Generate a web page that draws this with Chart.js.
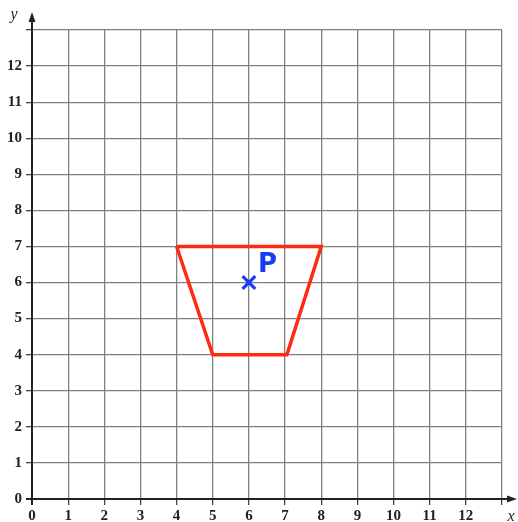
<!DOCTYPE html>
<html>
<head>
<meta charset="utf-8">
<script src="https://cdn.jsdelivr.net/npm/chart.js@4"></script>
<style>
  body { margin: 0; background: #fff; }
  #wrap { width: 518px; height: 522px; }
</style>
</head>
<body>
<div id="wrap"><canvas id="chart" width="518" height="522"></canvas></div>
<script>
// grid / tick data
const tickValues = [0, 1, 2, 3, 4, 5, 6, 7, 8, 9, 10, 11, 12];
const axisMax = 13;

// red shape (closed)
const shapeX = [4, 8, 7.05, 5, 4];
const shapeY = [7, 7, 4, 4, 7];

// point P
const pointX = [6];
const pointY = [6];
const pointLabels = ['P'];

const shapeData = shapeX.map((x, i) => ({ x: x, y: shapeY[i] }));
const pointData = pointX.map((x, i) => ({ x: x, y: pointY[i] }));

// axis lines with arrows + axis names + P label
const axesPlugin = {
  id: 'axesPlugin',
  afterDatasetsDraw(chart) {
    const ctx = chart.ctx;
    const xs = chart.scales.x, ys = chart.scales.y;
    const x0 = xs.getPixelForValue(0), y0 = ys.getPixelForValue(0);
    const top = 12, right = 517;
    ctx.save();
    ctx.strokeStyle = '#222';
    ctx.fillStyle = '#222';
    ctx.lineWidth = 2;
    ctx.beginPath();
    ctx.moveTo(x0, y0 + 6);
    ctx.lineTo(x0, top + 4);
    ctx.moveTo(x0 - 6, y0);
    ctx.lineTo(right - 4, y0);
    ctx.stroke();
    // arrow heads
    ctx.beginPath();
    ctx.moveTo(x0, top);
    ctx.lineTo(x0 - 3.5, top + 10);
    ctx.lineTo(x0 + 3.5, top + 10);
    ctx.closePath();
    ctx.fill();
    ctx.beginPath();
    ctx.moveTo(right, y0);
    ctx.lineTo(right - 10, y0 - 3.5);
    ctx.lineTo(right - 10, y0 + 3.5);
    ctx.closePath();
    ctx.fill();
    // axis names
    ctx.font = 'italic 16px "Liberation Serif"';
    ctx.textAlign = 'center';
    ctx.textBaseline = 'middle';
    ctx.fillText('y', 14, 15);
    ctx.fillText('x', 511, 517);
    // P label
    ctx.fillStyle = '#1a3cf0';
    ctx.font = 'bold 26px "Comic Sans MS", "DejaVu Sans", sans-serif';
    ctx.textAlign = 'left';
    ctx.textBaseline = 'alphabetic';
    pointData.forEach((p, i) => {
      ctx.fillText(pointLabels[i], xs.getPixelForValue(p.x) + 9, ys.getPixelForValue(p.y) - 11);
    });
    ctx.restore();
  }
};

const tickFont = { family: '"Liberation Serif", serif', size: 15, weight: 'bold' };

new Chart(document.getElementById('chart'), {
  type: 'scatter',
  data: {
    datasets: [
      {
        data: shapeData,
        showLine: true,
        borderColor: '#ff2a12',
        borderWidth: 3.5,
        pointRadius: 0,
        fill: false,
        tension: 0
      },
      {
        data: pointData,
        pointStyle: 'crossRot',
        pointRadius: 9,
        pointBorderWidth: 3.2,
        borderColor: '#1a3cf0',
        backgroundColor: '#1a3cf0'
      }
    ]
  },
  options: {
    responsive: false,
    animation: false,
    layout: { padding: { left: 0, top: 30, right: 16, bottom: 0 } },
    plugins: { legend: { display: false }, tooltip: { enabled: false } },
    scales: {
      x: {
        type: 'linear',
        min: 0,
        max: axisMax,
        afterFit: s => { s.height = 23; },
        afterBuildTicks: s => { s.ticks = tickValues.concat([axisMax]).map(v => ({ value: v })); },
        border: { display: false },
        grid: { color: '#808080', lineWidth: 1.3, tickLength: 6, tickColor: '#444' },
        ticks: {
          color: '#222',
          font: tickFont,
          padding: 2,
          maxRotation: 0,
          callback: v => (tickValues.includes(v) ? String(v) : '')
        }
      },
      y: {
        type: 'linear',
        min: 0,
        max: axisMax,
        afterFit: s => { s.width = 32; },
        afterBuildTicks: s => { s.ticks = tickValues.concat([axisMax]).map(v => ({ value: v })); },
        border: { display: false },
        grid: { color: '#808080', lineWidth: 1.3, tickLength: 6, tickColor: '#444' },
        ticks: {
          color: '#222',
          font: tickFont,
          padding: 4,
          callback: v => (tickValues.includes(v) ? String(v) : '')
        }
      }
    }
  },
  plugins: [axesPlugin]
});
</script>
</body>
</html>
